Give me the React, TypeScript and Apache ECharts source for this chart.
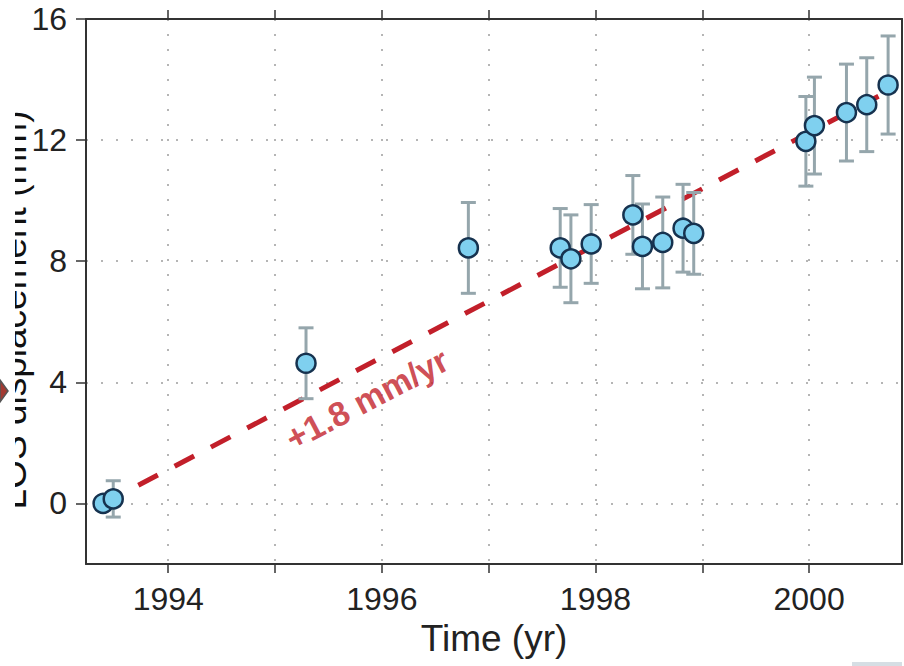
import React, { useEffect, useRef } from "react";
import * as echarts from "echarts";

// ---- data ----
const years = [
  1993.39, 1993.485, 1995.29, 1996.81, 1997.67, 1997.77, 1997.96, 1998.35,
  1998.44, 1998.63, 1998.82, 1998.92, 1999.97, 2000.05, 2000.35, 2000.54, 2000.74,
];
const displacement = [
  0.0, 0.15, 4.63, 8.44, 8.44, 8.08, 8.57, 9.53, 8.49, 8.62, 9.09, 8.92, 11.96,
  12.48, 12.91, 13.17, 13.82,
];
const errors = [
  0, 0.6, 1.17, 1.5, 1.3, 1.45, 1.3, 1.3, 1.4, 1.5, 1.45, 1.35, 1.48, 1.6, 1.6,
  1.55, 1.62,
];
const trendYears = [1993.72, 2000.65];
const trendValues = [0.6, 13.45];
const xTickValues = [1994, 1995, 1996, 1997, 1998, 1999, 2000];
const xLabelValues = [1994, 1996, 1998, 2000];
const yTickValues = [0, 4, 8, 12, 16];
const rateLabel = "+1.8 mm/yr";
const rateLabelAt = [1995.86, 3.45];
const xName = "Time (yr)";
const yName = "LOS displacement (mm)";

export default function App() {
  const ref = useRef<HTMLDivElement>(null);

  useEffect(() => {
    document.body.style.margin = "0";
    const chart = echarts.init(ref.current as HTMLDivElement, null, {
      renderer: "svg",
    });
    const font = "'Liberation Sans', Arial, Helvetica, sans-serif";
    const axisColor = "#333333";
    const gridDots = { type: [2, 13], width: 2, color: "#b5b5b5" };
    const xMin = 1993.23;
    const xMax = 2000.87;
    const yMin = -2;
    const yMax = 16;
    const red = "#c21f2a";

    chart.setOption({
      animation: false,
      backgroundColor: "#ffffff",
      grid: { left: 86, right: 2, top: 19, bottom: 102, containLabel: false },
      xAxis: [
        {
          type: "value",
          min: xMin,
          max: xMax,
          position: "bottom",
          name: xName,
          nameLocation: "middle",
          nameGap: 53,
          nameTextStyle: { fontSize: 37, color: "#222", fontFamily: font },
          axisLine: { show: true, onZero: false, lineStyle: { color: axisColor, width: 2 } },
          axisTick: {
            show: true,
            inside: false,
            length: 9,
            customValues: xTickValues,
            lineStyle: { color: axisColor, width: 1.5 },
          },
          axisLabel: {
            customValues: xLabelValues,
            fontSize: 32,
            color: "#222",
            margin: 19,
            fontFamily: font,
            formatter: (v: number) => String(Math.round(v)),
          },
          splitLine: { show: true, lineStyle: gridDots },
        },
        {
          type: "value",
          min: xMin,
          max: xMax,
          position: "top",
          axisLine: { show: true, onZero: false, lineStyle: { color: axisColor, width: 2 } },
          axisTick: {
            show: true,
            inside: false,
            length: 9,
            customValues: xTickValues,
            lineStyle: { color: axisColor, width: 1.5 },
          },
          axisLabel: { show: false },
          splitLine: { show: false },
        },
      ],
      yAxis: [
        {
          type: "value",
          min: yMin,
          max: yMax,
          position: "left",
          axisLine: { show: true, onZero: false, lineStyle: { color: axisColor, width: 2 } },
          axisTick: {
            show: true,
            inside: false,
            length: 10,
            customValues: yTickValues,
            lineStyle: { color: axisColor, width: 1.5 },
          },
          axisLabel: {
            customValues: yTickValues,
            fontSize: 32,
            color: "#222",
            margin: 19,
            fontFamily: font,
          },
          splitLine: { show: true, lineStyle: gridDots },
        },
        {
          type: "value",
          min: yMin,
          max: yMax,
          position: "right",
          axisLine: { show: true, onZero: false, lineStyle: { color: axisColor, width: 2 } },
          axisTick: { show: false },
          axisLabel: { show: false },
          splitLine: { show: false },
        },
      ],
      series: [
        {
          type: "line",
          data: trendYears.map((x, i) => [x, trendValues[i]]),
          symbol: "none",
          silent: true,
          lineStyle: { color: red, width: 5, type: [22, 19] },
          z: 2,
        },
        {
          type: "custom",
          data: years.map((x, i) => [x, displacement[i], errors[i]]),
          encode: { x: 0, y: 1 },
          silent: true,
          z: 3,
          renderItem: (params: any, api: any) => {
            const x = api.value(0);
            const y = api.value(1);
            const e = api.value(2);
            if (!e) return { type: "group", children: [] };
            const top = api.coord([x, y + e]);
            const bot = api.coord([x, y - e]);
            const hw = 7.5;
            const style = { stroke: "#95a6ac", lineWidth: 3 };
            return {
              type: "group",
              children: [
                { type: "line", shape: { x1: top[0], y1: top[1], x2: bot[0], y2: bot[1] }, style },
                { type: "line", shape: { x1: top[0] - hw, y1: top[1], x2: top[0] + hw, y2: top[1] }, style },
                { type: "line", shape: { x1: bot[0] - hw, y1: bot[1], x2: bot[0] + hw, y2: bot[1] }, style },
              ],
            };
          },
        },
        {
          type: "scatter",
          data: years.map((x, i) => [x, displacement[i]]),
          symbolSize: 19,
          itemStyle: { color: "#7fd0ef", borderColor: "#16324f", borderWidth: 2.5, opacity: 1 },
          z: 4,
        },
        {
          type: "scatter",
          data: [rateLabelAt],
          symbolSize: 1,
          silent: true,
          itemStyle: { color: "transparent" },
          label: {
            show: true,
            position: "inside",
            formatter: rateLabel,
            rotate: 27.75,
            fontSize: 34,
            fontWeight: "bold",
            fontFamily: font,
            color: red,
          },
          z: 5,
        },
      ],
      graphic: [
        {
          type: "text",
          x: 13,
          y: 310,
          rotation: Math.PI / 2,
          style: {
            text: yName,
            fontSize: 37,
            fontFamily: font,
            fill: "#111",
            textAlign: "center",
            textVerticalAlign: "middle",
            align: "center",
            verticalAlign: "middle",
          },
        },
        {
          type: "rect",
          shape: { x: 0, y: 0, width: 15, height: 560 },
          style: { fill: "#ffffff" },
        },
        {
          type: "polygon",
          shape: { points: [[0, 380], [8, 391], [0, 402]] },
          style: { fill: "#a33a32", stroke: "#555555", lineWidth: 1.5 },
        },
        {
          type: "rect",
          shape: { x: 852, y: 662, width: 50, height: 4 },
          style: { fill: "#d6dee4" },
        },
      ],
    });

    return () => chart.dispose();
  }, []);

  return (
    <div
      ref={ref}
      style={{ position: "fixed", left: 0, top: 0, width: 904, height: 666 }}
    />
  );
}
